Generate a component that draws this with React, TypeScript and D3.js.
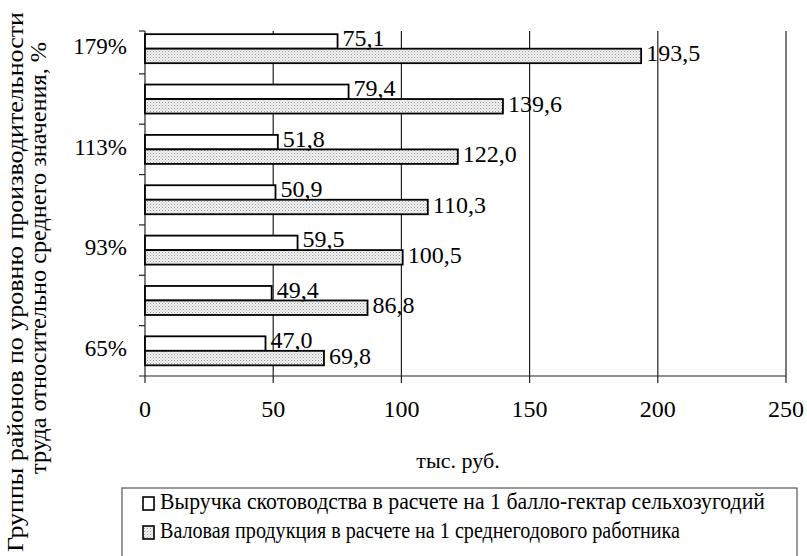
import React from "react";
import * as d3 from "d3";

const categories = ["179%", "", "113%", "", "93%", "", "65%"];
const revenueValues = [75.1, 79.4, 51.8, 50.9, 59.5, 49.4, 47.0];
const grossValues = [193.5, 139.6, 122.0, 110.3, 100.5, 86.8, 69.8];
const xTicks = [0, 50, 100, 150, 200, 250];
const seriesNames = [
  "Выручка скотоводства в расчете на 1 балло-гектар сельхозугодий",
  "Валовая продукция в расчете на 1 среднегодового работника",
];
const xTitle = "тыс. руб.";
const yTitle1 = "Группы районов по уровню производительности";
const yTitle2 = "труда относительно среднего значения, %";

const W = 807;
const H = 556;

function T(props: any) {
  const { children, size = 23, ...rest } = props;
  return (
    <text {...rest} fill="#000" style={{ fontFamily: '"Liberation Serif", "Times New Roman", serif', fontSize: `${size}px` }}>
      {children}
    </text>
  );
}

export default function App() {
  const x = d3.scaleLinear().domain([0, 250]).range([145, 786]);
  const idx = categories.map((_, i) => String(i));
  const y = d3
    .scaleBand<string>()
    .domain(idx)
    .range([23.5, 376])
    .paddingInner(0.424)
    .paddingOuter(0.212);
  const plotTop = 31;
  const plotBottom = 376;
  const bw = y.bandwidth() / 2;
  const fmt = (v: number) => v.toFixed(1).replace(".", ",");
  const step = y.step();
  const boundaries = idx.slice(1).map((k) => (y(k) as number) - (step - y.bandwidth()) / 2);

  return (
    <svg width={W} height={H} style={{ display: "block", position: "absolute", left: 0, top: 0, background: "#fff" }}>
      <defs>
        <pattern id="dots" width="3" height="3" patternUnits="userSpaceOnUse">
          <rect width="3" height="3" fill="#f2f2f2" />
          <rect x="0" y="0" width="1" height="1" fill="#9a9a9a" />
          <rect x="1.5" y="1.5" width="1" height="1" fill="#b8b8b8" />
        </pattern>
      </defs>
      <rect width={W} height={H} fill="#fff" />

      {xTicks.slice(1).map((t) => (
        <line key={t} x1={x(t)} x2={x(t)} y1={plotTop} y2={plotBottom + 7} stroke="#222" strokeWidth={1.2} />
      ))}
      <line x1={139} x2={x(250)} y1={plotBottom} y2={plotBottom} stroke="#222" strokeWidth={1.2} />
      <line x1={x(0)} x2={x(0)} y1={plotTop} y2={plotBottom + 7} stroke="#222" strokeWidth={1.2} />
      <line x1={139} x2={x(0)} y1={plotTop} y2={plotTop} stroke="#222" strokeWidth={1.2} />
      {boundaries.map((b, i) => (
        <line key={i} x1={139} x2={x(0)} y1={b} y2={b} stroke="#222" strokeWidth={1.2} />
      ))}

      {idx.map((k, i) => {
        const y0 = y(k) as number;
        return (
          <g key={k}>
            <rect x={x(0)} y={y0} width={x(revenueValues[i]) - x(0)} height={bw} fill="#fff" stroke="#000" strokeWidth={1.8} />
            <rect x={x(0)} y={y0 + bw} width={x(grossValues[i]) - x(0)} height={bw} fill="url(#dots)" stroke="#000" strokeWidth={1.8} />
            <T x={x(revenueValues[i]) + 5} y={y0 + bw / 2 - 1} dominantBaseline="middle" size={24}>
              {fmt(revenueValues[i])}
            </T>
            <T x={x(grossValues[i]) + 5} y={y0 + bw * 1.5} dominantBaseline="middle" size={24}>
              {fmt(grossValues[i])}
            </T>
            {categories[i] && (
              <T x={127} y={y0 + bw} textAnchor="end" dominantBaseline="middle">
                {categories[i]}
              </T>
            )}
          </g>
        );
      })}

      {xTicks.map((t) => (
        <T key={t} x={x(t)} y={411} textAnchor="middle" dominantBaseline="middle" size={24}>
          {t}
        </T>
      ))}
      <T x={458} y={463} textAnchor="middle" dominantBaseline="middle" size={22}>
        {xTitle}
      </T>

      <T transform={`translate(18,282) rotate(-90)`} textAnchor="middle" dominantBaseline="middle" textLength={540} lengthAdjust="spacingAndGlyphs">
        {yTitle1}
      </T>
      <T transform={`translate(41,258) rotate(-90)`} textAnchor="middle" dominantBaseline="middle" textLength={432} lengthAdjust="spacingAndGlyphs">
        {yTitle2}
      </T>

      <rect x={122} y={488} width={675} height={100} fill="none" stroke="#555" strokeWidth={1.2} />
      <rect x={143} y={497} width={11} height={13} fill="#fff" stroke="#000" strokeWidth={1.6} />
      <rect x={143} y={526} width={11} height={13} fill="url(#dots)" stroke="#000" strokeWidth={1.6} />
      <T x={160} y={504} dominantBaseline="middle" textLength={605} lengthAdjust="spacingAndGlyphs">
        {seriesNames[0]}
      </T>
      <T x={160} y={533} dominantBaseline="middle" textLength={520} lengthAdjust="spacingAndGlyphs">
        {seriesNames[1]}
      </T>
    </svg>
  );
}
